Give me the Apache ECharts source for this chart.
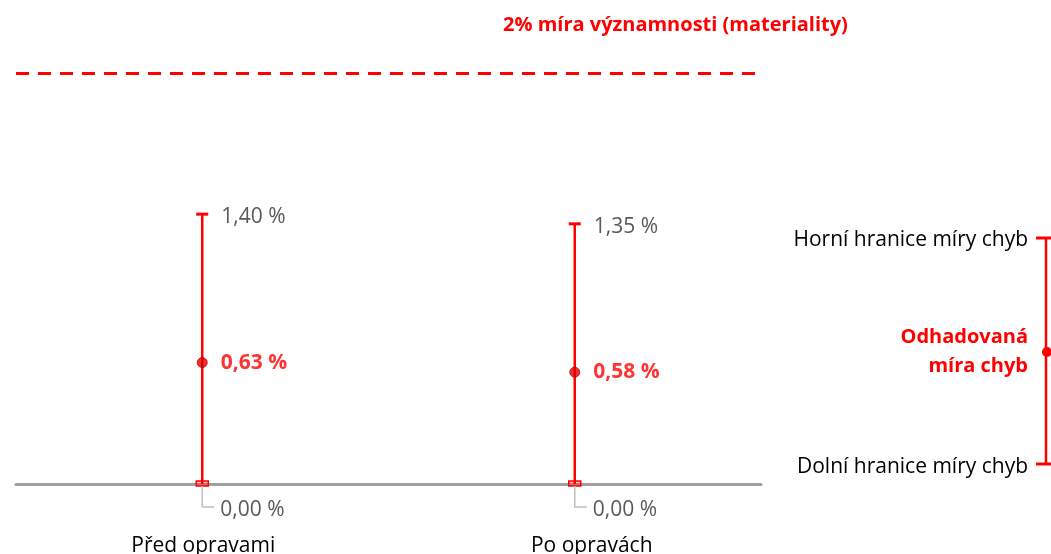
<!DOCTYPE html>
<html>
<head>
<meta charset="utf-8">
<script src="https://cdn.jsdelivr.net/npm/echarts@6/dist/echarts.min.js"></script>
<style>
  html, body { margin: 0; padding: 0; background: #fff; }
  #main { width: 1051px; height: 554px; }
</style>
</head>
<body>
<div id="main"></div>
<script>
// data
var categories = ['Před opravami', 'Po opravách'];
var estimates = [0.63, 0.58];      // odhadovaná míra chyb
var lowerBounds = [0.00, 0.00];    // dolní hranice
var upperBounds = [1.40, 1.35];    // horní hranice
var materialityLevel = 2.13;       // where the dashed line sits in the picture
var materialityText = '2% míra významnosti (materiality)';

var RED = '#ff0000';
var GREY_TXT = '#595959';
var FONT = 'Open Sans';

function pct(v) {
  return v.toFixed(2).replace('.', ',') + ' %';
}

var barData = [];
var pointData = [];
for (let i = 0; i < categories.length; i++) {
  barData.push([i, lowerBounds[i], upperBounds[i]]);
  pointData.push([i, estimates[i]]);
}

// second category label sits a bit right of its bar in the original
var categoryItems = categories.map(function (c, i) {
  return { value: c, textStyle: { padding: [0, 0, 0, i == 1 ? 34 : 2] } };
});

var dom = document.getElementById('main');
var chart = echarts.init(dom, null, { renderer: 'canvas' });

// error bar with caps + value labels for upper and lower bounds
function renderBar(params, api) {
  var lo = api.coord([api.value(0), api.value(1)]);
  var hi = api.coord([api.value(0), api.value(2)]);
  var x = lo[0];
  return {
    type: 'group',
    children: [
      { type: 'line', shape: { x1: x, y1: lo[1], x2: x, y2: hi[1] },
        style: { stroke: RED, lineWidth: 2.5 } },
      { type: 'line', shape: { x1: x - 6, y1: hi[1], x2: x + 6, y2: hi[1] },
        style: { stroke: RED, lineWidth: 3 } },
      { type: 'rect', shape: { x: x - 6, y: lo[1] - 3, width: 12, height: 5 },
        style: { fill: 'rgba(255,0,0,0.25)', stroke: RED, lineWidth: 1.5 } },
      { type: 'text', x: x + 19, y: hi[1] + 3,
        style: { text: pct(api.value(2)), fill: GREY_TXT, font: '21px "' + FONT + '"',
                 textVerticalAlign: 'middle' } },
      // leader line for the 0,00 % label
      { type: 'polyline', shape: { points: [[x, lo[1] + 2], [x, lo[1] + 23], [x + 12, lo[1] + 23]] },
        style: { stroke: '#bfbfbf', lineWidth: 1.5, fill: null } },
      { type: 'text', x: x + 18, y: lo[1] + 26,
        style: { text: pct(api.value(1)), fill: GREY_TXT, font: '21px "' + FONT + '"',
                 textVerticalAlign: 'middle' } }
    ]
  };
}

chart.setOption({
  animation: false,
  grid: { left: 16, right: 290, top: 60, bottom: 70, containLabel: false, outerBoundsMode: 'none' },
  xAxis: {
    type: 'category',
    data: categoryItems,
    axisLine: { show: true, lineStyle: { color: '#a0a0a0', width: 3 } },
    axisTick: { show: false },
    axisLabel: { color: '#000', fontSize: 21, fontFamily: FONT, margin: 52 }
  },
  yAxis: {
    type: 'value',
    min: 0,
    max: 2.2,
    show: false,
    splitLine: { show: false }
  },
  series: [
    {
      type: 'custom',
      renderItem: renderBar,
      data: barData,
      z: 3,
      markLine: {
        silent: true,
        symbol: 'none',
        label: { show: false },
        lineStyle: { color: RED, width: 3, type: [13, 9] },
        data: [{ yAxis: materialityLevel }]
      }
    },
    {
      type: 'scatter',
      data: pointData,
      symbol: 'circle',
      symbolSize: 10,
      z: 4,
      itemStyle: { color: '#e00000', borderColor: '#c00000', borderWidth: 1 },
      label: {
        show: true,
        position: 'right',
        distance: 13,
        color: RED,
        fontWeight: 'bold',
        fontSize: 21,
        fontFamily: FONT,
        formatter: function (p) { return pct(p.value[1]); }
      }
    }
  ],
  graphic: [
    { type: 'text', left: 503, top: 15,
      style: { text: materialityText, fill: RED, font: 'bold 20px "' + FONT + '"' } },
    // explanation key on the right
    { type: 'line', shape: { x1: 1046, y1: 238, x2: 1046, y2: 464 }, style: { stroke: RED, lineWidth: 2.5 } },
    { type: 'line', shape: { x1: 1036, y1: 238, x2: 1058, y2: 238 }, style: { stroke: RED, lineWidth: 3 } },
    { type: 'line', shape: { x1: 1036, y1: 464, x2: 1058, y2: 464 }, style: { stroke: RED, lineWidth: 3 } },
    { type: 'circle', shape: { cx: 1047, cy: 352, r: 5 }, style: { fill: RED } },
    { type: 'text', x: 1028, y: 240,
      style: { text: 'Horní hranice míry chyb', fill: '#000', font: '21px "' + FONT + '"',
               textAlign: 'right', textVerticalAlign: 'middle' } },
    { type: 'text', x: 1028, y: 467,
      style: { text: 'Dolní hranice míry chyb', fill: '#000', font: '21px "' + FONT + '"',
               textAlign: 'right', textVerticalAlign: 'middle' } },
    { type: 'text', x: 1028, y: 352,
      style: { text: 'Odhadovaná\nmíra chyb', fill: RED, font: 'bold 20px "' + FONT + '"',
               textAlign: 'right', textVerticalAlign: 'middle', lineHeight: 29 } }
  ]
});
</script>
</body>
</html>
